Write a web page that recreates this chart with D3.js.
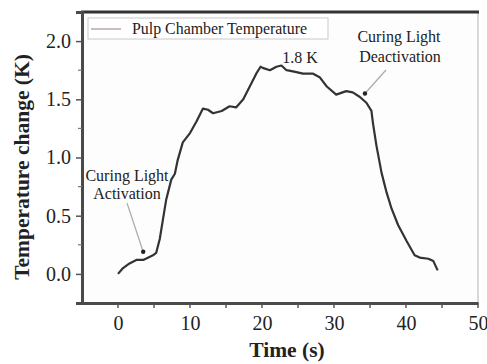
<!DOCTYPE html>
<html>
<head>
<meta charset="utf-8">
<script src="https://cdn.jsdelivr.net/npm/d3@7"></script>
<style>
body{margin:0;background:#fff;}
text{font-family:"Liberation Serif","Times New Roman",serif;fill:#222;}
</style>
</head>
<body>
<div class="graph"></div>
<script>
// time (s) and temperature change (K)
var timeData=[0,0.7,1.6,2.55,3.5,4.86,5.3,5.8,6.25,6.7,7.4,7.9,8.3,9.0,10,10.9,11.8,12.5,13.2,14.4,15.5,16.4,17.4,18.3,19.2,19.8,20.1,21.1,22,22.7,23.4,24.3,25.7,27.1,28,29,30.3,31.7,32.6,33.6,34.5,35.2,35.4,35.9,36.6,37.3,38,38.9,40.1,41.2,41.9,43.1,43.8,44.4];
var tempData=[0,0.05,0.09,0.12,0.12,0.16,0.18,0.30,0.47,0.64,0.81,0.86,0.98,1.13,1.21,1.31,1.42,1.41,1.38,1.40,1.44,1.43,1.50,1.61,1.72,1.78,1.77,1.75,1.78,1.79,1.75,1.74,1.72,1.72,1.69,1.61,1.54,1.57,1.56,1.52,1.47,1.40,1.30,1.10,0.87,0.70,0.56,0.42,0.28,0.16,0.14,0.13,0.11,0.03];
var xTicks=[0,10,20,30,40,50];
var yTicks=[0,0.5,1.0,1.5,2.0];
var seriesName="Pulp Chamber Temperature";

var width=487, height=364;
var margin={top:12,right:9,bottom:61,left:82};

var svg=d3.select(".graph").append("svg").attr("width",width).attr("height",height);

var x=d3.scaleLinear().domain([-5,50]).range([margin.left,width-margin.right]);
var y=d3.scaleLinear().domain([-0.25,2.25]).range([height-margin.bottom,margin.top]);

// plot background + frame
svg.append("rect").attr("x",x(-5)).attr("y",y(2.25)).attr("width",x(50)-x(-5)).attr("height",y(-0.25)-y(2.25))
  .style("fill","#fdfdfd").style("stroke","none");
svg.append("line").attr("x1",x(50)).attr("x2",x(50)).attr("y1",y(2.25)).attr("y2",y(-0.25)).style("stroke","#d8d8d8").style("stroke-width",2);
svg.append("line").attr("x1",x(-5)-1).attr("x2",x(50)+1).attr("y1",y(2.25)).attr("y2",y(2.25)).style("stroke","#333").style("stroke-width",3);

// axes
var xAxis=d3.axisBottom(x).tickValues(xTicks).tickSize(0).tickPadding(13).tickFormat(d3.format("d"));
var yAxis=d3.axisLeft(y).tickValues(yTicks).tickSize(6).tickPadding(5).tickFormat(d3.format(".1f"));

var gx=svg.append("g").attr("transform","translate(0,"+y(-0.25)+")").call(xAxis);
var gy=svg.append("g").attr("transform","translate("+x(-5)+",0)").call(yAxis);
[gx,gy].forEach(function(g){
  g.select(".domain").style("stroke","#4a4a4a").style("stroke-width",3);
  g.selectAll(".tick line").style("stroke","#555").style("stroke-width",1.5);
  g.selectAll("text").style("font-size","20px").style("fill","#222");
});

// x ticks every 5, short and outward
svg.selectAll(".xt").data(d3.range(0,51,5)).enter().append("line")
  .attr("x1",function(d){return x(d);}).attr("x2",function(d){return x(d);})
  .attr("y1",y(-0.25)).attr("y2",y(-0.25)+5).style("stroke","#555").style("stroke-width",1.5);
// y minor ticks
svg.selectAll(".ym").data([0.25,0.75,1.25,1.75]).enter().append("line")
  .attr("x1",x(-5)-4).attr("x2",x(-5)).attr("y1",function(d){return y(d);}).attr("y2",function(d){return y(d);})
  .style("stroke","#777").style("stroke-width",1.2);

// axis titles
svg.append("text").attr("x",287).attr("y",357).attr("text-anchor","middle")
  .style("font-size","21.5px").style("font-weight","bold").text("Time (s)");
svg.append("text").attr("transform","translate(29,167) rotate(-90)").attr("text-anchor","middle")
  .style("font-size","21.5px").style("font-weight","bold").text("Temperature change (K)");

// curve
var line=d3.line().x(function(d){return x(d[0]);}).y(function(d){return y(d[1]);}).curve(d3.curveLinear);
var pts=timeData.map(function(t,i){return [t,tempData[i]];});
svg.append("path").datum(pts).attr("d",line).style("fill","none").style("stroke","#333").style("stroke-width",2.2).style("stroke-linejoin","round");

// legend
svg.append("rect").attr("x",88).attr("y",18).attr("width",240).attr("height",21).style("fill","#fff").style("stroke","#c9c9c9").style("stroke-width",1);
svg.append("line").attr("x1",91).attr("x2",121).attr("y1",29).attr("y2",29).style("stroke","#cdbcbc").style("stroke-width",2);
svg.append("text").attr("x",132).attr("y",34).style("font-size","16px")
  .attr("textLength",175).attr("lengthAdjust","spacingAndGlyphs").text(seriesName);

// annotations
function arrow(x1,y1,x2,y2){
  svg.append("line").attr("x1",x1).attr("y1",y1).attr("x2",x2).attr("y2",y2).style("stroke","#aaa").style("stroke-width",1.2);
  svg.append("circle").attr("cx",x2).attr("cy",y2).attr("r",2.2).style("fill","#222");
}
svg.append("text").attr("x",127).attr("y",181).attr("text-anchor","middle").style("font-size","16px").text("Curing Light");
svg.append("text").attr("x",127).attr("y",199).attr("text-anchor","middle").style("font-size","16px").text("Activation");
arrow(127,203,x(3.5),y(0.19));
svg.append("text").attr("x",300).attr("y",63).attr("text-anchor","middle").style("font-size","16px").text("1.8 K");
svg.append("text").attr("x",399).attr("y",42).attr("text-anchor","middle").style("font-size","16px").text("Curing Light");
svg.append("text").attr("x",400).attr("y",62).attr("text-anchor","middle").style("font-size","16px").text("Deactivation");
arrow(386,70,x(34.3),y(1.55));
</script>
</body>
</html>
